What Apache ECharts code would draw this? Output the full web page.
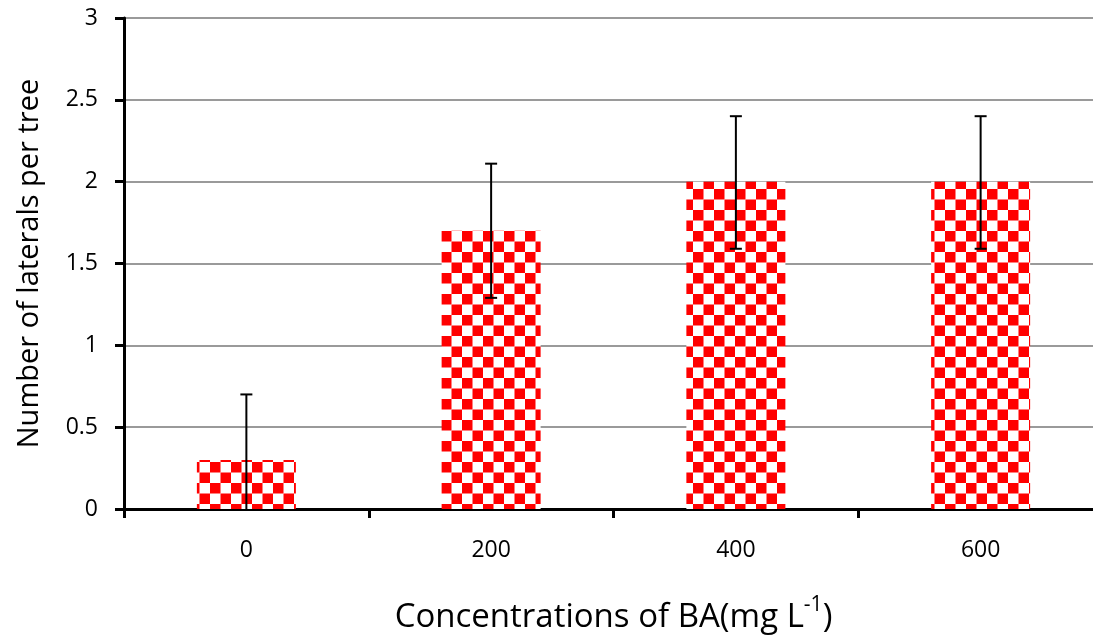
<!DOCTYPE html>
<html>
<head>
<meta charset="utf-8">
<script src="https://cdn.jsdelivr.net/npm/echarts@6/dist/echarts.min.js"></script>
<style>html,body{margin:0;padding:0;background:#fff}#c{width:1093px;height:636px}</style>
</head>
<body>
<div id="c"></div>
<script>
const categories = ['0', '200', '400', '600'];
const values = [0.3, 1.7, 2.0, 2.0];
const errLow = [0, 1.29, 1.59, 1.59];
const errHigh = [0.7, 2.11, 2.4, 2.4];
const yTicks = [0, 0.5, 1, 1.5, 2, 2.5, 3];

function checker() {
  const s = 10.5;
  const c = document.createElement('canvas');
  c.width = 21; c.height = 21;
  const g = c.getContext('2d');
  g.fillStyle = '#fff'; g.fillRect(0, 0, 21, 21);
  g.fillStyle = '#ff0000';
  g.fillRect(0, 0, s, s);
  g.fillRect(s, s, s, s);
  return c;
}

const chart = echarts.init(document.getElementById('c'));
const FONT = '"Open Sans", sans-serif';
chart.setOption({
  animation: false,
  grid: { left: 124, width: 979, top: 18, height: 491, containLabel: false, outerBoundsMode: 'none' },
  xAxis: {
    type: 'category',
    data: categories,
    axisLine: { lineStyle: { color: '#000', width: 3 } },
    axisTick: { show: true, length: 9, lineStyle: { color: '#000', width: 3 } },
    axisLabel: { fontSize: 23, color: '#000', margin: 30, fontFamily: FONT },
    name: '{a|Concentrations of BA(mg L}{s|-1}{a|)}',
    nameLocation: 'middle',
    nameGap: 84,
    nameTextStyle: {
      rich: {
        a: { fontSize: 33, color: '#000', fontFamily: FONT, padding: [8, 0, 0, 0] },
        s: { fontSize: 21, color: '#000', fontFamily: FONT, padding: [0, 0, 16, 0] }
      }
    }
  },
  yAxis: {
    type: 'value',
    min: 0, max: 3, interval: 0.5,
    axisLine: { show: true, lineStyle: { color: '#000', width: 3 } },
    axisTick: { show: true, inside: false, length: 9, lineStyle: { color: '#000', width: 3 } },
    axisLabel: { fontSize: 23, color: '#000', margin: 26, fontFamily: FONT,
      formatter: v => yTicks.includes(v) ? String(v) : '' },
    splitLine: { lineStyle: { color: '#9a9a9a', width: 2 } },
    name: 'Number of laterals per tree',
    nameLocation: 'middle',
    nameGap: 80,
    nameTextStyle: { fontSize: 29, color: '#000', fontFamily: FONT }
  },
  series: [
    {
      type: 'bar',
      data: values,
      barWidth: 99,
      itemStyle: { color: { image: checker(), repeat: 'repeat' } },
      z: 2
    },
    {
      type: 'custom',
      z: 5,
      data: categories.map((c, i) => [i, errLow[i], errHigh[i]]),
      renderItem: function (params, api) {
        const x = api.value(0);
        const lo = api.coord([x, api.value(1)]);
        const hi = api.coord([x, api.value(2)]);
        const w = 6;
        const style = { stroke: '#000', lineWidth: 2 };
        const children = [
          { type: 'line', shape: { x1: hi[0], y1: hi[1], x2: lo[0], y2: lo[1] }, style },
          { type: 'line', shape: { x1: hi[0] - w, y1: hi[1], x2: hi[0] + w, y2: hi[1] }, style }
        ];
        if (api.value(1) > 0) {
          children.push({ type: 'line', shape: { x1: lo[0] - w, y1: lo[1], x2: lo[0] + w, y2: lo[1] }, style });
        }
        return { type: 'group', children };
      }
    }
  ]
});
</script>
</body>
</html>
